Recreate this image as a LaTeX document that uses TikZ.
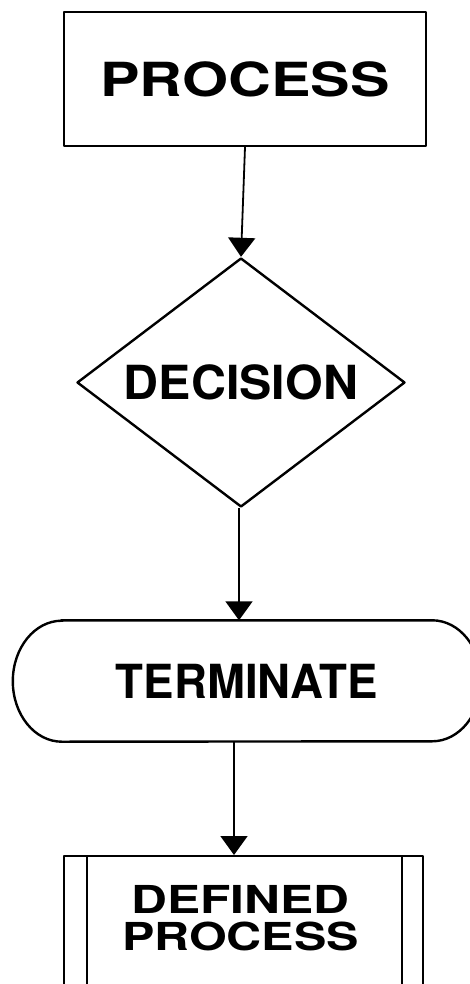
\documentclass[tikz,border=0pt]{standalone}
\usepackage{fontspec}
\setmainfont{TeX Gyre Heros}
\usepackage{graphicx}
\usepackage{tikz}
\usetikzlibrary{positioning, calc}
\usetikzlibrary{shapes.geometric}
\usetikzlibrary{arrows.meta}

\newcommand{\stretchtxt}[2]{\scalebox{#1}[1]{#2}}

\tikzset{
    box/.style={draw, line width=2.4pt, inner sep=0pt, line join=round},
    bigtxt/.style={font=\fontsize{47}{50}\selectfont\bfseries},
    flow/.style={line width=1.8pt, -{Triangle[length=19pt,width=27pt]}}
}

\begin{document}
\begin{tikzpicture}[x=1pt, y=-1pt]
            \useasboundingbox (0,0) rectangle (470,984);
            \clip (0,0) rectangle (470,984);
            \node[box, bigtxt, minimum width=362pt, minimum height=134pt] (proc) at (245,79) {\stretchtxt{1.26}{PROCESS}};
            \node[box, bigtxt, diamond, aspect=1.32, minimum width=328pt, minimum height=249pt] (dec) at (241,382.5) {\stretchtxt{1.03}{DECISION}};
            \node[bigtxt, inner sep=0pt, minimum width=370pt, minimum height=121pt] (term) at (247,681) {\stretchtxt{0.97}{TERMINATE}};
            \draw[line width=2.4pt] (term.north west) -- (term.north east)
                arc[start angle=90, end angle=-90, x radius=49pt, y radius=60.5pt]
                -- (term.south west)
                arc[start angle=270, end angle=90, x radius=49pt, y radius=60.5pt] -- cycle;
            \node[box, minimum width=359pt, minimum height=160pt, anchor=north] (def) at (243.5,855) {};
            \draw[line width=1.8pt] ([xshift=24pt]def.north west) -- ([xshift=24pt]def.south west);
            \draw[line width=1.8pt] ([xshift=-22pt]def.north east) -- ([xshift=-22pt]def.south east);
            \node[font=\fontsize{38.5}{37}\selectfont\bfseries, align=center, inner sep=0pt, below=30pt of def.north, xshift=-3pt] (deftxt) {\stretchtxt{1.29}{DEFINED}\\\stretchtxt{1.26}{PROCESS}};
            % connectors
            \draw[flow] (proc.south) -- (dec.north);
            \draw[flow] ([xshift=-2pt]dec.south) -- ([xshift=-2pt]dec.south |- term.north);
            \draw[flow] ([xshift=-13pt]term.south) -- ([xshift=-9.5pt]def.north);
        \end{tikzpicture}
\end{document}
